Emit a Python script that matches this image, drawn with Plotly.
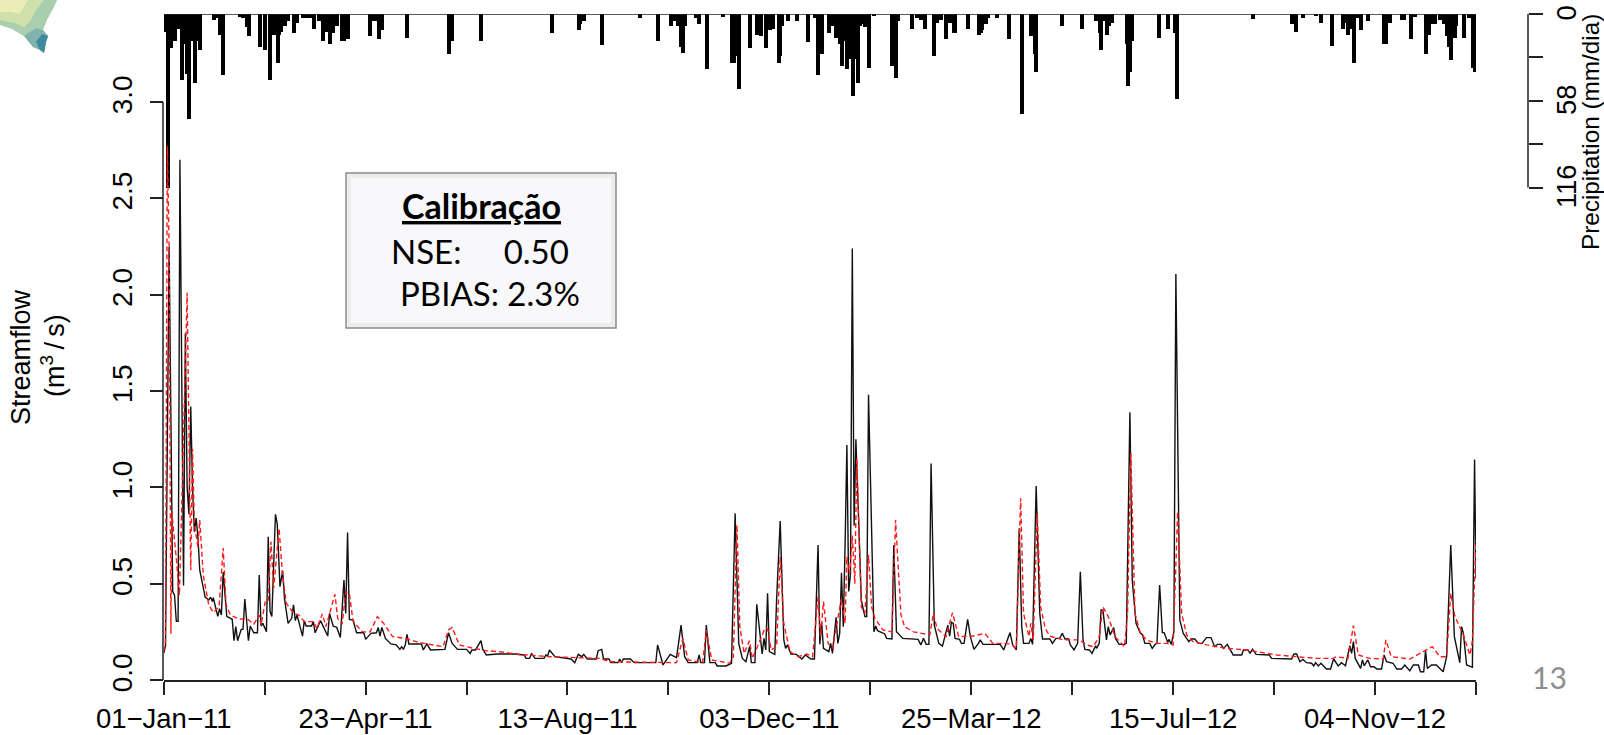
import pandas as pd
import plotly.graph_objects as go

START = pd.Timestamp("2011-01-01")

# (days since 01-Jan-2011, mm/dia)
rain_points = [(1,12),(2,116),(4,23),(6,18),(8,10),(10,44),(11,20),(13,40),(14,70),(15,18),(17,46),(18,18),(20,24),
 (28,4),(29,3),(31,14),(33,41),(42,2),(44,3),(46,9),(47,15),(53,22),(56,24),(59,44),(61,14),(63,33),(64,14),(65,12),(67,8),(69,5),
 (72,13),(73,6),(74,6),(77,3),(79,3),(81,3),(83,10),(86,5),(88,18),(90,12),(92,20),(94,13),(96,8),(99,18),(100,18),(102,17),
 (114,15),(116,5),(118,5),(119,17),(120,11),(121,11),(135,16),(158,27),(160,18),(176,18),(215,13),(230,11),(231,7),(233,5),(243,21),(264,3),
 (274,18),(281,8),(283,5),(285,8),(287,22),(288,26),(289,8),(295,3),(297,6.5),(301,37),(310,2),(315,33),(316,33),(317,28),(319,50),
 (325,23),(329,14),(331,15),(334,23),(336,11),(338,10),(341,33),(342,28),(343,8),(346,5),(351,5),(357,19),(361,3),(363,41),(365,27),
 (369,13),(371,8),(373,16),(375,20),(376,35),(377,18),(379,37),(380,30),(382,55),(383,30),(385,46),(386,8),(388,7),(389,9),(391,36),(394,1.5),
 (404,35),(406,43),(407,5),(415,10),(418,3),(420,4),(422,10),(427,28),(429,6),(431,4),(434,17),(436,6),(438,13),(439,13),(446,10),
 (452,14),(453,13),(454,11),(456,7),(457,3),(462,3),(469,17),(476,67),(481,15),(482,15),(483,27),(484,39),(498,8),(509,10),(517,5),
 (519,13),(520,24),(522,5),(523,14),(524,8),(526,6),(534,20),(535,48),(536,39),(537,18),(552,16),(557,10),(561,13),(562,57),(604,3.5),
 (626,6.5),(628,12),(632,3),(639,1.5),(642,6),(648,21.5),(654,10),(655,6),(657,14),(658,10),(660,33),(662,3),(664,11),(668,5),
 (677,20),(678,20),(680,6),(687,4),(688,4),(692,17),(694,2),(700,27),(701,14),(702,14),(703,7),(705,7),(708,4),(710,7),(711,7),(712,15),
 (713,22),(714,31),(716,16),(717,8),(721,16),(724,3),(726,36),(727,39)]

# observed streamflow (days, m3/s)
obs_points = [(0,.139),(1,.176),(3,2.25),(5,.46),(6,.44),(7,.305),(8,.305),(9,2.70),(11,.49),(12,1.80),(13,1.0),(14,.86),(15,1.42),(16,1.0),(17,.77),(18,.84),(19,.74),(20,.57),
 (23,.43),(25,.415),(26,.43),(27,.407),(27.5,.427),(30,.33),(31,.37),(32,.337),(33,.56),(35,.33),(38,.315),(39,.204),(40,.277),(41,.204),(43,.263),(44,.263),(45,.42),(47,.204),
 (48,.28),(50,.245),(52,.245),(53,.545),(54,.28),(55,.294),(57,.25),(58,.744),(59,.355),(60,.33),(62,.86),(63,.81),(64.5,.484),(66,.567),(67,.424),(69,.294),(71,.32),(72,.39),
 (73,.308),(74,.337),(77,.228),(78,.308),(79,.28),(82,.28),(83,.303),(84,.245),(87,.308),(89,.268),(91,.228),(92,.346),(94,.28),(96,.273),(98,.221),(100,.519),(101,.346),(102,.765),
 (103,.315),(105,.311),(107,.245),(111,.245),(112,.211),(115,.242),(118,.245),(119,.273),(120,.228),(121,.273),(123,.216),(126,.187),(129,.182),(131,.159),(132,.173),(133,.159),
 (134,.182),(135,.237),(136,.187),(143,.187),(144,.156),(146,.187),(148,.156),(156,.159),(158,.245),(160,.19),(163,.159),(168,.159),(170,.138),(171,.156),(173,.156),(176,.204),
 (177,.159),(179,.13),(185,.135),(194,.135),(200,.13),(201,.112),(203,.112),(204,.138),(206,.112),(211,.112),(212,.13),(213,.125),(214,.156),(217,.121),(226,.109),(228,.09),
 (230,.133),(232,.121),(233,.133),(235,.109),(240,.109),(241,.152),(243,.159),(244,.109),(247,.109),(248,.09),(252,.09),(253,.109),(254,.09),(255,.109),(259,.109),(261,.09),
 (273,.09),(274,.182),(277,.078),(281,.133),(284.5,.116),(287,.285),(289,.121),(291,.09),(296,.09),(297,.13),(298,.09),(300,.09),(301,.285),(303,.09),(306,.09),(307,.073),
 (312,.073),(315,.087),(317,.865),(319,.19),(321,.112),(323,.095),(325,.173),(326,.09),(328,.09),(329,.393),(332,.135),(333,.216),(334,.156),(335,.45),(336,.147),(339,.133),
 (340,.415),(342,.825),(344,.208),(345,.164),(346,.182),(348,.135),(351,.133),(354,.109),(356,.13),(359,.109),(361,.109),(363,.70),(364,.185),(365,.298),(366,.164),(369,.147),
 (370,.19),(371,.138),(373,.325),(374,.19),(375,.242),(376,.557),(377,.277),(378,.7),(379,1.22),(380,.46),(381,.55),(382,2.24),(383,.8),(384,1.25),(385,.95),(387,.415),(389,.329),
 (390,.329),(391,1.48),(394,.25),(395,.28),(396,.256),(400,.239),(401,.216),(404,.213),(405,.70),(406.5,.25),(408,.234),(410,.216),(418.5,.211),(420,.182),(421.5,.216),(423,.185),
 (424.5,.185),(425.7,1.124),(427.5,.285),(430,.19),(432,.176),(435,.285),(436,.228),(437,.30),(438,.294),(439,.216),(441.5,.211),(442.5,.19),(444,.19),(446,.315),(447.5,.225),
 (449.5,.159),(452,.19),(453,.208),(454.5,.185),(464,.185),(466,.156),(469.5,.246),(471,.182),(473,.156),(474.6,.787),(476,.277),(477,.19),(480,.19),(481,.216),(482,.185),(484,1.007),
 (486,.346),(487.5,.213),(491.6,.213),(493,.19),(495,.216),(497,.216),(498.5,.242),(500,.213),(502,.213),(503,.182),(505,.156),(507,.19),(508.5,.562),(510,.208),(511,.159),(513.5,.156),
 (515,.138),(517,.178),(517.5,.164),(519,.19),(520,.363),(521,.363),(523,.208),(524,.277),(525,.234),(527,.272),(528,.216),(530,.185),(533,.185),(534,.19),(536,1.39),(537.3,.519),
 (539.4,.294),(541.6,.246),(543,.234),(544.3,.19),(547,.19),(548.4,.164),(550,.185),(551,.19),(552.5,.493),(554,.246),(555,.246),(557,.194),(557.6,.211),(559,.185),(560.4,.251),(561.5,2.107),
 (563.7,.311),(565.6,.242),(568.7,.199),(570,.213),(572,.213),(574,.19),(576,.19),(578.5,.22),(581,.22),(583,.173),(584.5,.185),(586.5,.185),(588,.164),(590,.185),(592,.147),(593.3,.13),
 (598,.13),(599,.156),(601.6,.156),(602.6,.138),(604,.159),(606,.133),(613.3,.13),(614.6,.112),(625.7,.109),(627,.135),(628.5,.135),(630.3,.095),(632,.107),(634,.09),(636.8,.087),(638,.073),
 (639,.09),(640.5,.073),(642,.087),(645,.057),(647.3,.057),(649,.109),(651.6,.073),(653.4,.09),(655.6,.074),(658,.178),(659,.138),(660,.199),(661,.112),(664,.06),(665,.104),(666,.074),
 (668,.104),(669.5,.069),(671.4,.069),(673,.057),(675.6,.057),(677,.13),(678.4,.095),(682,.087),(684,.057),(686.7,.057),(688.5,.078),(691.3,.048),(693.2,.078),(696,.078),(697.2,.043),
 (699,.043),(700,.152),(701,.06),(703.3,.078),(706,.078),(709.8,.043),(711.7,.121),(714,.70),(716,.225),(719,.09),(720,.277),(721,.242),(722.8,.078),(726,.066),(727.2,1.145),(728,.528)]

# simulated streamflow (days, m3/s)
sim_points = [(0,.15),(1,.18),(2,2.77),(3,2.25),(4,.24),(4.5,.87),(7,.63),(8.7,.44),(10,.9),(13,2.01),(15,.57),(16,1.2),(17,.81),(19,.69),(20,.83),(22,.54),(25,.39),(27.5,.35),(30.7,.38),
 (33,.685),(34.6,.39),(37,.337),(42,.315),(46,.32),(50,.29),(53,.337),(54,.285),(56.5,.415),(58,.415),(59.5,.718),(61,.476),(64,.787),(66,.536),(68,.40),(72,.346),(75,.337),(78,.303),(83,.303),
 (85,.268),(88,.343),(90,.277),(95,.445),(96.5,.32),(99,.29),(101,.458),(103,.45),(105,.308),(110,.25),(114.5,.25),(118.5,.329),(122,.294),(127,.225),(134,.216),(142,.194),(155,.173),(158,.26),
 (160,.273),(164,.182),(172,.164),(179,.152),(186,.147),(197.6,.133),(214,.121),(242,.112),(247.5,.095),(273,.09),(284.5,.09),(288,.216),(291,.104),(299,.09),(301,.26),(304,.104),(314,.087),
 (316,.121),(318,.805),(319.6,.277),(322,.138),(325,.204),(326.5,.112),(329.4,.173),(333.5,.268),(335,.268),(337,.156),(340,.173),(342,.64),(344,.294),(347.4,.147),(352,.121),(356.6,.135),(360,.121),
 (363,.433),(364.4,.225),(366,.407),(368.6,.19),(371,.164),(374,.32),(376,.424),(378,.294),(379,.64),(380.6,.55),(382,.75),(383.4,.50),(384.5,1.15),(387,.38),(389,.346),(391,.65),(392.7,.38),
 (394.5,.32),(399,.26),(404,.25),(406,.83),(409,.337),(411,.277),(416,.25),(425,.234),(427,.346),(429,.268),(434,.225),(437.6,.35),(441,.225),(449,.228),(455.5,.242),(460,.19),(464,.19),(470,.187),
 (473,.164),(475.4,.943),(477,.346),(480,.225),(481,.294),(482.4,.208),(484.6,.865),(486.5,.38),(489,.268),(491.6,.228),(499,.208),(508,.208),(512,.182),(515.7,.173),(519,.225),(521,.38),(524,.329),
 (527.7,.225),(533,.173),(534.7,.346),(536.5,1.18),(538.8,.346),(541.6,.25),(545,.208),(551,.19),(556.4,.19),(560,.182),(562.5,.874),(564.7,.346),(567.5,.234),(571,.199),(578.5,.182),(589.6,.164),
 (600.7,.156),(617.4,.13),(630,.121),(639.6,.112),(648.8,.112),(650.6,.121),(657,.112),(660,.282),(662.7,.13),(669,.112),(676.5,.109),(678,.208),(681,.121),(691.3,.109),(698.7,.147),(703.7,.173),
 (708,.121),(711.7,.121),(714,.45),(716.3,.329),(721,.234),(724.6,.13),(726,.2),(728,.727)]

tick_days = [0, 112, 224, 336, 448, 560, 672]
tick_labels = ["01\u2212Jan\u221211", "23\u2212Apr\u221211", "13\u2212Aug\u221211", "03\u2212Dec\u221211",
               "25\u2212Mar\u221212", "15\u2212Jul\u221212", "04\u2212Nov\u221212"]
minor_tick_days = [56, 168, 280, 392, 504, 616, 728]
flow_ticks = [0, 0.5, 1, 1.5, 2, 2.5, 3]
flow_labels = ["0.0", "0.5", "1.0", "1.5", "2.0", "2.5", "3.0"]
rain_ticks = [0, 58, 116]
rain_labels = ["0", "58", "116"]
minor_rain_ticks = [29, 87]


def to_date(days):
    return [START + pd.Timedelta(days=float(d)) for d in days]


rain_day, rain_mm = zip(*rain_points)
obs_day, obs_flow = zip(*obs_points)
sim_day, sim_flow = zip(*sim_points)

W, H = 1604, 735
L, R, T, B = 150, 76, 14, 55
PW, PH = W - L - R, H - T - B
DAY_PX = (1476 - 163.7) / 728


def fx(px):
    return (px - L) / PW


def fy(py):
    return (H - B - py) / PH


FONT = "Liberation Sans, Arial, sans-serif"
INK = "#222222"
fig = go.Figure()
fig.add_trace(go.Bar(x=to_date(rain_day), y=rain_mm, yaxis="y",
                     width=[4 / DAY_PX * 86400000] * len(rain_day),
                     marker=dict(color="#000000", line=dict(width=0)), showlegend=False))
fig.add_trace(go.Scatter(x=to_date(obs_day), y=obs_flow, mode="lines", yaxis="y2",
                         line=dict(color="#111111", width=1.4), showlegend=False))
fig.add_trace(go.Scatter(x=to_date(sim_day), y=sim_flow, mode="lines", yaxis="y2",
                         line=dict(color="#ff1a1a", width=1.4, dash="5px,3px"), showlegend=False))

shapes = []


def poly(points, color):
    path = "M" + "L".join(f"{fx(x):.5f},{fy(y):.5f}" for x, y in points) + "Z"
    shapes.append(dict(type="path", xref="paper", yref="paper", path=path,
                       fillcolor=color, line=dict(width=0), layer="below"))


# map fragment, top-left
poly([(0, 25), (12, 29), (25, 37), (33, 47), (40, 50), (44, 53), (46, 42), (48, 36), (43, 30), (47, 20), (55, 5), (57, 0), (0, 0)], "#a9cfae")
poly([(0, 20), (14, 23), (24, 27), (30, 22), (36, 10), (44, 0), (0, 0)], "#cfe0aa")
poly([(0, 12), (12, 12), (20, 14), (24, 6), (28, 0), (0, 0)], "#eaedb6")
poly([(24, 36), (33, 47), (40, 50), (44, 53), (46, 42), (48, 36), (43, 30), (36, 28)], "#7fb3ac")
poly([(36, 42), (40, 50), (44, 53), (46, 42), (48, 36), (42, 34)], "#3f8a9e")

# R-style axis lines
shapes.append(dict(type="line", xref="paper", yref="y2", x0=fx(163), x1=fx(163), y0=0, y1=3,
                   line=dict(color=INK, width=1.5)))
shapes.append(dict(type="line", xref="paper", yref="y", x0=1, x1=1, y0=0, y1=116,
                   line=dict(color=INK, width=1.5)))
shapes.append(dict(type="line", xref="x", yref="y", x0=START, x1=START + pd.Timedelta(days=728), y0=0, y1=0,
                   line=dict(color=INK, width=1.5)))

# bevelled text box
shapes.append(dict(type="rect", xref="paper", yref="paper", x0=fx(346), x1=fx(616), y0=fy(328), y1=fy(173),
                   fillcolor="#ececec", line=dict(color="#8a8a8a", width=1.5)))
shapes.append(dict(type="rect", xref="paper", yref="paper", x0=fx(351), x1=fx(611), y0=fy(323), y1=fy(178),
                   fillcolor="#f8f8fa", line=dict(width=0)))


def note(text, x, y, size, color="#000000", family=FONT, angle=0, **font_extra):
    return dict(text=text, x=fx(x), y=fy(y), xref="paper", yref="paper", showarrow=False,
                xanchor="center", yanchor="middle", textangle=angle,
                font=dict(family=family, size=size, color=color, **font_extra))


BOX = "Lato, Carlito, Calibri, sans-serif"
annotations = [
    note("Streamflow", 21, 357, 27, angle=-90),
    note("(m<sup>3</sup>\u2009/\u2009s)", 53, 355, 27, angle=-90),
    note("Precipitation (mm/dia)", 1590, 132, 24.3, angle=-90),
    note("<b>Calibração</b>", 481, 205, 34, family=BOX, lineposition="under"),
    note("NSE:\u00a0\u00a0\u00a0\u00a0\u00a00.50", 480, 251, 33, family=BOX),
    note("PBIAS: 2.3%", 490, 293, 33, family=BOX),
    note("13", 1549, 677, 30, color="#8e8e8e", family=BOX),
]

fig.update_layout(
    width=W, height=H, margin=dict(l=L, r=R, t=T, b=B), autosize=False,
    paper_bgcolor="#ffffff", plot_bgcolor="rgba(0,0,0,0)", bargap=0, showlegend=False,
    font=dict(family=FONT, color="#000000"),
    shapes=shapes, annotations=annotations,
    xaxis=dict(type="date", domain=[fx(163.7), fx(1476)],
               range=[START, START + pd.Timedelta(days=728)],
               tickmode="array", tickvals=to_date(tick_days), ticktext=tick_labels,
               ticks="outside", ticklen=13, tickwidth=1.5, tickcolor=INK,
               minor=dict(tickmode="array", tickvals=to_date(minor_tick_days), ticks="outside",
                          ticklen=13, tickwidth=1.5, tickcolor=INK, showgrid=False),
               showline=True, linecolor=INK, linewidth=1.5, showgrid=False, zeroline=False,
               tickangle=0, tickfont=dict(size=27.5), automargin=False),
    yaxis=dict(range=[666 / 1.496, 0], domain=[0, 1], side="right", anchor="free", position=1,
               tickmode="array", tickvals=rain_ticks, ticktext=rain_labels,
               ticks="outside", ticklen=14, tickwidth=1.5, tickcolor=INK,
               minor=dict(tickmode="array", tickvals=minor_rain_ticks, ticks="outside",
                          ticklen=14, tickwidth=1.5, tickcolor=INK, showgrid=False),
               showline=False, showgrid=False, zeroline=False, tickangle=-90,
               tickfont=dict(size=27.5), ticklabelstandoff=0, ticklabelshift=-3,
               ticklabeloverflow="allow", automargin=False),
    yaxis2=dict(range=[0, (680 - 14) / 192.67], domain=[0, 1], overlaying="y", anchor="free",
                position=fx(163), side="left",
                tickmode="array", tickvals=flow_ticks, ticktext=flow_labels,
                ticks="outside", ticklen=13, tickwidth=1.5, tickcolor=INK,
                showline=False, showgrid=False, zeroline=False, tickangle=-90,
                tickfont=dict(size=28), ticklabelstandoff=7, ticklabelshift=-3,
                ticklabeloverflow="allow", automargin=False),
)

fig.write_html("out.html", config={"displayModeBar": False},
               post_script="document.body.style.margin='0';document.body.style.overflow='hidden';")
